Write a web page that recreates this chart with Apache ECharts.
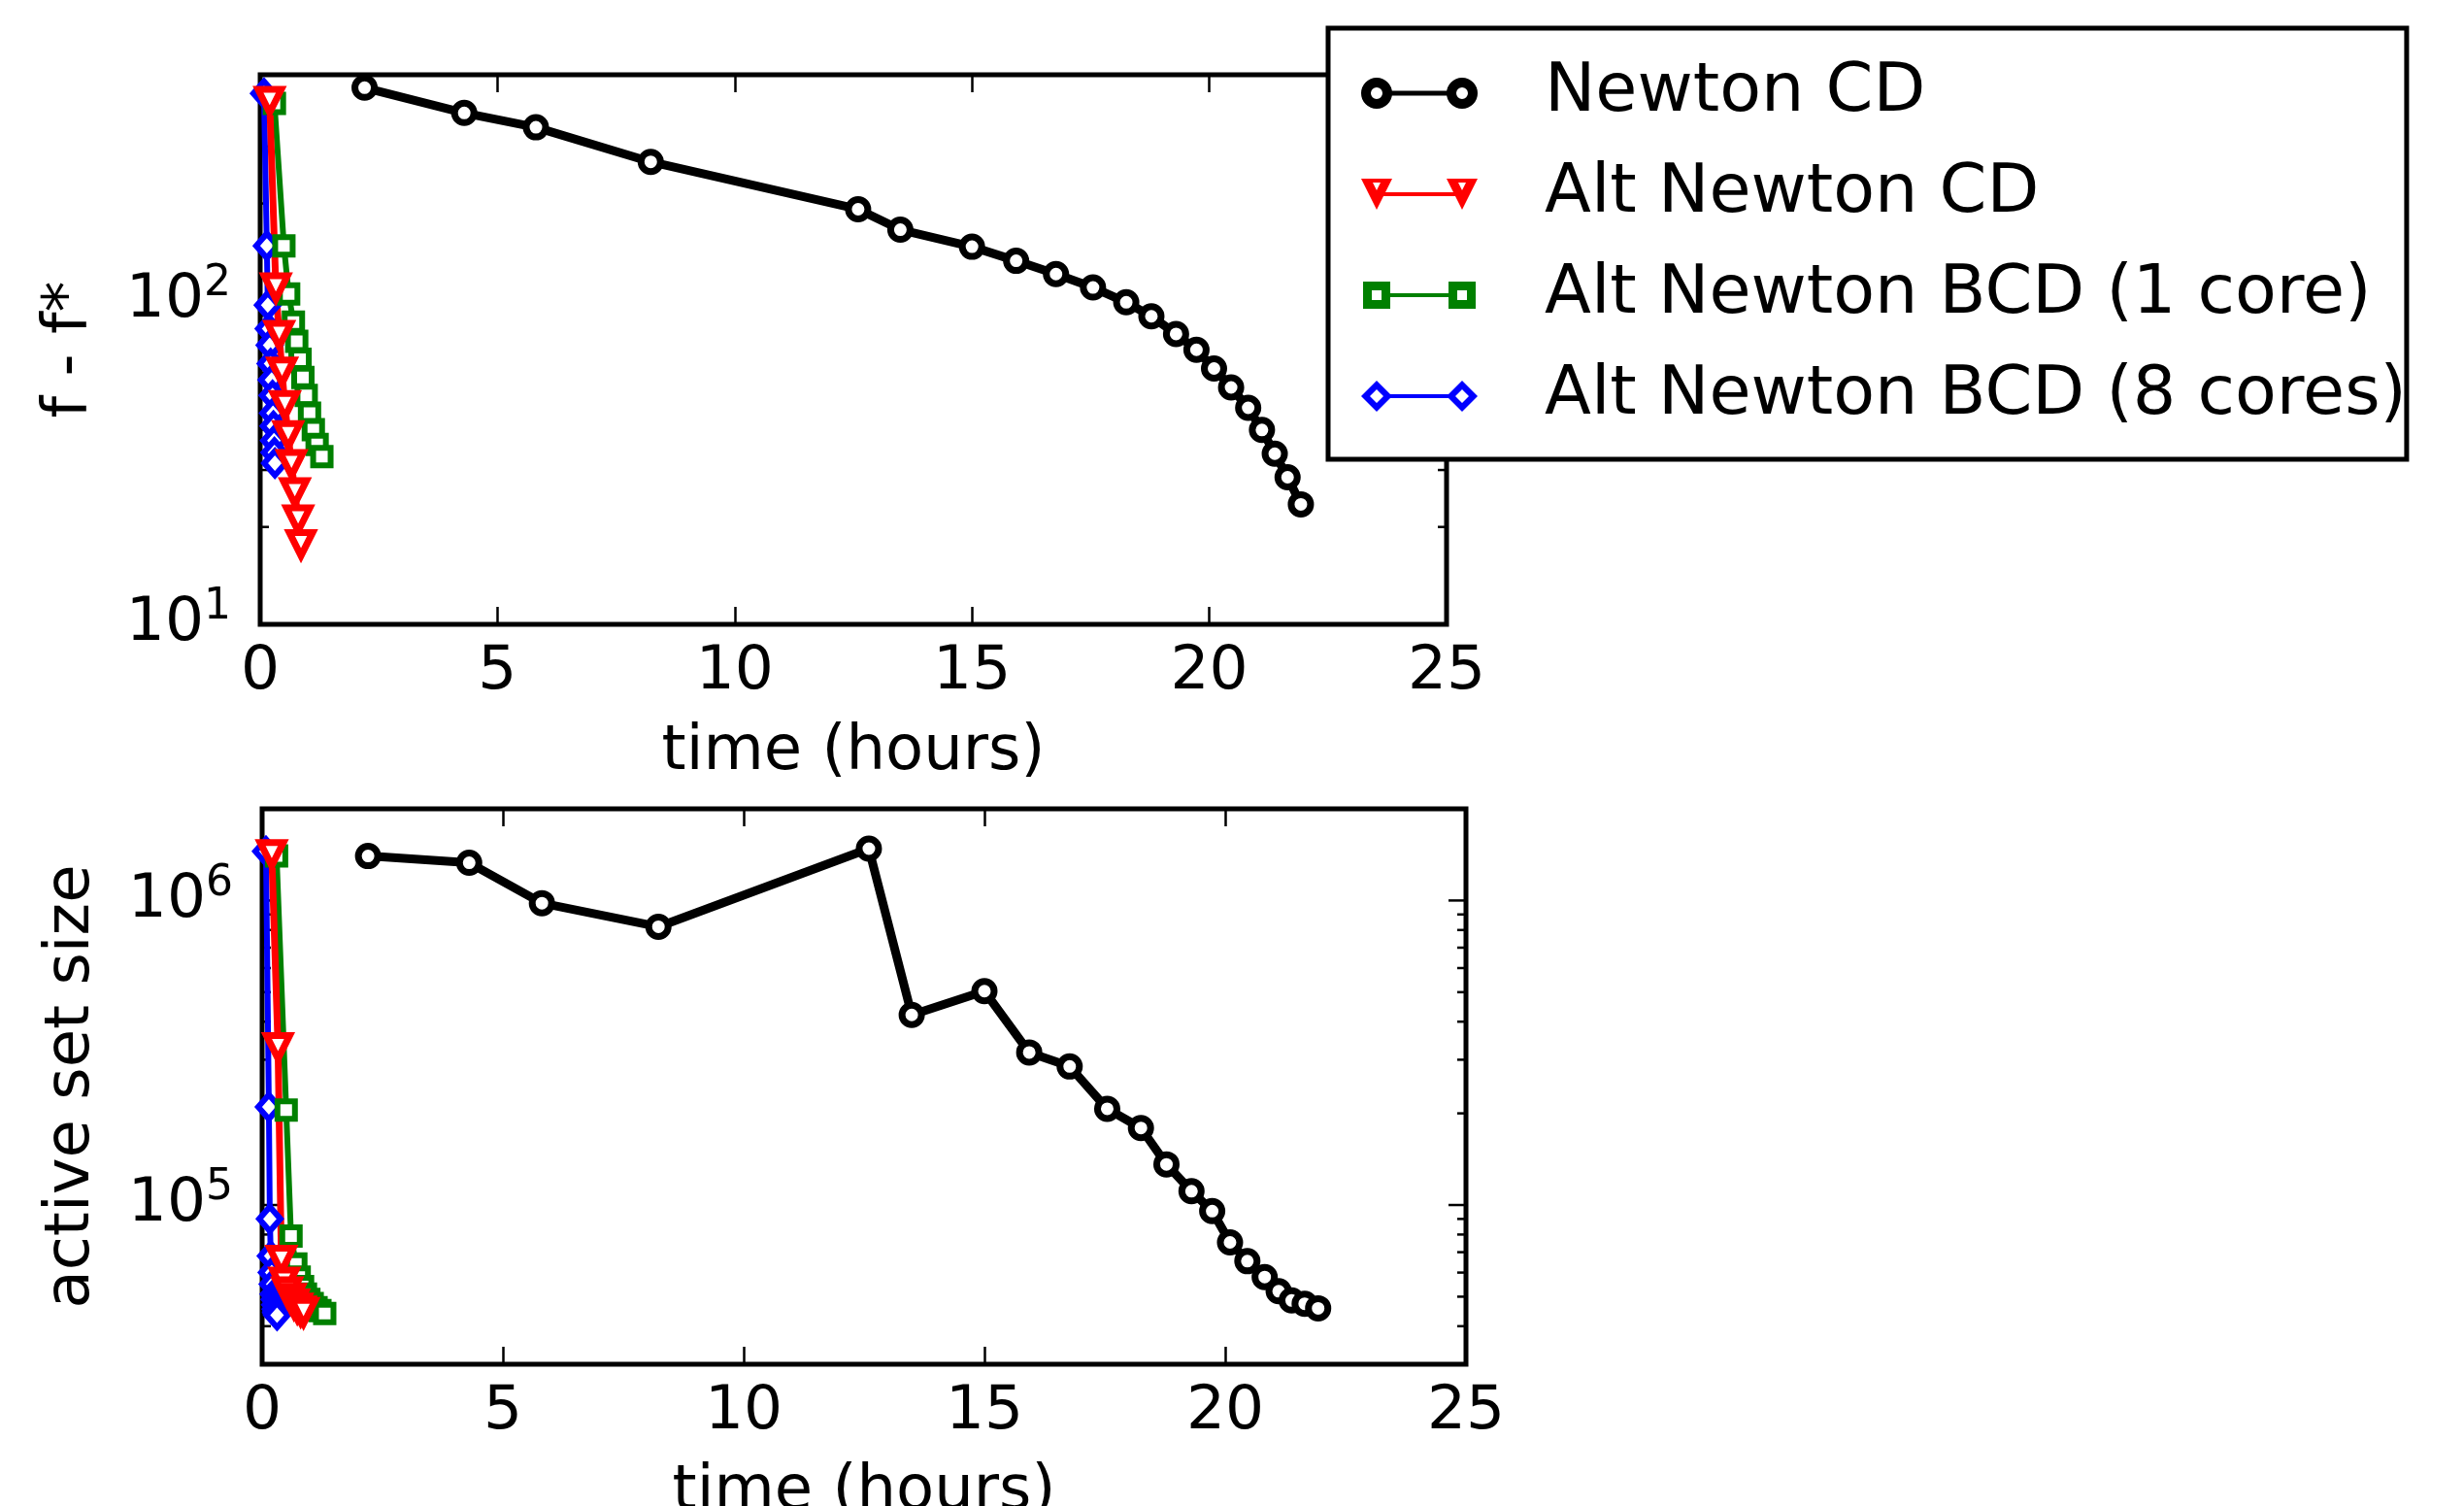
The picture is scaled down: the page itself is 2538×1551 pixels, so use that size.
<!DOCTYPE html>
<html>
<head>
<meta charset="utf-8">
<script src="https://cdn.jsdelivr.net/npm/echarts@6/dist/echarts.min.js"></script>
<style>
  html, body { margin: 0; padding: 0; background: #fff; }
  #chart { width: 2538px; height: 1551px; }
</style>
</head>
<body>
<div id="chart"></div>
<script>
const FONT = 'DejaVu Sans'

// x axis (hours)
const xMin = 0
const xMax = 25
const xStep = 5

// series names / colours, in legend order
const seriesNames = ['Newton CD', 'Alt Newton CD', 'Alt Newton BCD (1 core)', 'Alt Newton BCD (8 cores)']
const seriesColors = ['#000000', '#ff0000', '#008000', '#0000ff']

// Newton CD
const newtonTime = [2.2, 4.3, 5.81, 8.23, 12.6, 13.49, 15.0, 15.93, 16.77, 17.55, 18.25, 18.78, 19.3, 19.73, 20.1, 20.46, 20.82, 21.11, 21.38, 21.65, 21.93]
const newtonObj = [456, 381, 344, 269, 192, 166, 147, 133, 121, 110, 99, 89.6, 79, 70.6, 61.8, 54, 46.7, 39.9, 33.7, 28.5, 23.5]
const newtonActive = [1.40e6, 1.33e6, 9.8e5, 8.2e5, 1.48e6, 4.21e5, 5.04e5, 3.17e5, 2.85e5, 2.07e5, 1.79e5, 1.36e5, 1.11e5, 9.55e4, 7.54e4, 6.54e4, 5.8e4, 5.21e4, 4.86e4, 4.74e4, 4.58e4]

// Alt Newton CD
const altTime = [0.2, 0.33, 0.40, 0.46, 0.52, 0.59, 0.66, 0.73, 0.80, 0.86]
const altObj = [415, 110, 78.5, 60.4, 47.6, 38.4, 31.3, 25.6, 21.1, 17.7]
const altActive = [1.42e6, 3.3e5, 6.6e4, 5.6e4, 5.2e4, 4.95e4, 4.75e4, 4.6e4, 4.5e4, 4.45e4]

// Alt Newton BCD (1 core)
const bcd1Time = [0.3, 0.5, 0.6, 0.7, 0.77, 0.84, 0.9, 0.97, 1.04, 1.12, 1.2, 1.3]
const bcd1Obj = [408, 148, 105, 86, 75, 66, 58, 51, 45, 40, 36, 33]
const bcd1Active = [1.40e6, 2.05e5, 7.9e4, 6.4e4, 5.8e4, 5.4e4, 5.1e4, 4.9e4, 4.75e4, 4.6e4, 4.5e4, 4.4e4]

// Alt Newton BCD (8 cores)
const bcd8Time = [0.08, 0.14, 0.16, 0.18, 0.2, 0.22, 0.24, 0.26, 0.27, 0.28, 0.29, 0.3, 0.31]
const bcd8Obj = [438, 148, 97, 82, 73, 64, 57, 51, 45, 41, 37, 34, 31.5]
const bcd8Active = [1.45e6, 2.1e5, 9e4, 6.8e4, 6e4, 5.5e4, 5.1e4, 4.9e4, 4.7e4, 4.55e4, 4.45e4, 4.4e4, 4.35e4]

// y axis ranges and tick values (log)
const objRange = [10, 500]
const activeRange = [3e4, 2e6]
const objTicks = [20, 30, 40, 50, 60, 70, 80, 90, 100, 200, 300, 400]
const activeTicks = [4e4, 5e4, 6e4, 7e4, 8e4, 9e4, 1e5, 2e5, 3e5, 4e5, 5e5, 6e5, 7e5, 8e5, 9e5, 1e6]

const zip = (xs, ys) => xs.map((x, i) => [x, ys[i]])

// legend icons: line with a hollow marker at each end (holes by reverse winding)
const legendIcons = [
  'path://M0,16 A16,16 0 1,1 32,16 A16,16 0 1,1 0,16 Z M10,16 A6,6 0 1,0 22,16 A6,6 0 1,0 10,16 Z' +
    ' M88,16 A16,16 0 1,1 120,16 A16,16 0 1,1 88,16 Z M98,16 A6,6 0 1,0 110,16 A6,6 0 1,0 98,16 Z' +
    ' M30,13.5 L90,13.5 L90,18.5 L30,18.5 Z',
  'path://M0,0 L32,0 L16,32 Z M12,4 L16,12 L20,4 Z M88,0 L120,0 L104,32 Z M100,4 L104,12 L108,4 Z' +
    ' M23,14 L97,14 L97,18 L23,18 Z',
  'path://M2,2 L30,2 L30,30 L2,30 Z M11,11 L11,21 L21,21 L21,11 Z M90,2 L118,2 L118,30 L90,30 Z M99,11 L99,21 L109,21 L109,11 Z' +
    ' M29,14 L91,14 L91,18 L29,18 Z M0,16 Z M120,16 Z',
  'path://M16,0 L32,16 L16,32 L0,16 Z M16,9 L9,16 L16,23 L23,16 Z M104,0 L120,16 L104,32 L88,16 Z M104,9 L97,16 L104,23 L111,16 Z' +
    ' M30,14 L90,14 L90,18 L30,18 Z',
]

const markers = [
  { symbol: 'circle', symbolSize: 20, symbolRotate: 0, line: 9, border: 7 },
  { symbol: 'triangle', symbolSize: [24, 24], symbolRotate: 180, line: 7, border: 7 },
  { symbol: 'rect', symbolSize: 18, symbolRotate: 0, line: 6, border: 6 },
  { symbol: 'diamond', symbolSize: [22, 25], symbolRotate: 0, line: 6, border: 6 },
]

function lineSeries(idx, data, xAxisIndex, yAxisIndex) {
  const m = markers[idx]
  const color = seriesColors[idx]
  return {
    type: 'line',
    name: seriesNames[idx],
    xAxisIndex,
    yAxisIndex,
    data,
    symbol: m.symbol,
    symbolSize: m.symbolSize,
    symbolRotate: m.symbolRotate,
    showAllSymbol: true,
    lineStyle: { color, width: m.line },
    itemStyle: { color: '#fff', borderColor: color, borderWidth: m.border },
    emphasis: { disabled: true },
  }
}

function tickSeries(values, xAxisIndex, yAxisIndex) {
  return {
    type: 'custom',
    xAxisIndex,
    yAxisIndex,
    silent: true,
    z: 3,
    data: values.map(v => [xMin, v]),
    renderItem(params, api) {
      const v = api.value(1)
      const lg = Math.log10(v)
      const len = Math.abs(lg - Math.round(lg)) < 1e-6 ? 18 : 9
      const a = api.coord([xMin, v])
      const b = api.coord([xMax, v])
      const style = { stroke: '#000', lineWidth: 2.5 }
      return {
        type: 'group',
        children: [
          { type: 'line', shape: { x1: a[0], y1: a[1], x2: a[0] + len, y2: a[1] }, style },
          { type: 'line', shape: { x1: b[0] - len, y1: b[1], x2: b[0], y2: b[1] }, style },
        ],
      }
    },
  }
}

function powerLabel(v) {
  const e = Math.round(Math.log10(v))
  if (Math.abs(v - Math.pow(10, e)) > 1e-6 * v) return ''
  return '{b|10}{s|' + e + '}'
}

const textBase = { fontFamily: FONT, color: '#000', fontSize: 63 }
const nameStyle = { fontFamily: FONT, color: '#000', fontSize: 64 }

function xAxes(gridIndex) {
  const common = {
    type: 'value', gridIndex, min: xMin, max: xMax, interval: xStep,
    splitLine: { show: false }, axisLine: { show: false },
    axisTick: { inside: true, length: 18, lineStyle: { color: '#000', width: 2.5 } },
  }
  return [
    {
      ...common, position: 'bottom',
      axisLabel: { ...textBase, margin: 18 },
      name: 'time (hours)', nameLocation: 'middle', nameGap: 100, nameTextStyle: nameStyle,
    },
    { ...common, position: 'top', axisLabel: { show: false } },
  ]
}

function yAxis(gridIndex, range, name) {
  return {
    type: 'log', logBase: 10, gridIndex, min: range[0], max: range[1],
    axisLine: { show: false }, axisTick: { show: false }, splitLine: { show: false },
    axisLabel: {
      formatter: powerLabel, margin: 30,
      rich: {
        b: { ...textBase },
        s: { fontFamily: FONT, color: '#000', fontSize: 44, padding: [0, 0, 34, 0] },
      },
    },
    name, nameLocation: 'middle', nameRotate: 90, nameGap: 164, nameTextStyle: nameStyle,
  }
}

const gridStyle = {
  show: true, borderColor: '#000', borderWidth: 5, backgroundColor: 'transparent',
  containLabel: false, outerBoundsMode: 'none',
}

const chart = echarts.init(document.getElementById('chart'), null, { renderer: 'canvas' })
chart.setOption({
  animation: false,
  backgroundColor: '#fff',
  textStyle: { fontFamily: FONT },
  grid: [
    { ...gridStyle, left: 268, top: 77, width: 1222, height: 566 },
    { ...gridStyle, left: 270, top: 833, width: 1240, height: 572 },
  ],
  xAxis: [...xAxes(0), ...xAxes(1)],
  yAxis: [yAxis(0, objRange, 'f - f*'), yAxis(1, activeRange, 'active set size')],
  legend: {
    orient: 'vertical', left: 1368, top: 29,
    padding: [32, 0, 30, 34], itemGap: 34, itemWidth: 120, itemHeight: 32,
    selectedMode: false, backgroundColor: '#fff', borderColor: '#000', borderWidth: 5,
    textStyle: { fontFamily: FONT, color: '#000', fontSize: 70, lineHeight: 70, padding: [0, 0, 0, 64] },
    data: seriesNames.map((n, i) => ({ name: n, icon: legendIcons[i], itemStyle: { color: seriesColors[i], borderWidth: 0 } })),
  },
  series: [
    lineSeries(0, zip(newtonTime, newtonObj), 0, 0),
    lineSeries(3, zip(bcd8Time, bcd8Obj), 0, 0),
    lineSeries(2, zip(bcd1Time, bcd1Obj), 0, 0),
    lineSeries(1, zip(altTime, altObj), 0, 0),
    lineSeries(0, zip(newtonTime, newtonActive), 2, 1),
    lineSeries(3, zip(bcd8Time, bcd8Active), 2, 1),
    lineSeries(2, zip(bcd1Time, bcd1Active), 2, 1),
    lineSeries(1, zip(altTime, altActive), 2, 1),
    tickSeries(objTicks, 0, 0),
    tickSeries(activeTicks, 2, 1),
  ],
})
</script>
</body>
</html>
